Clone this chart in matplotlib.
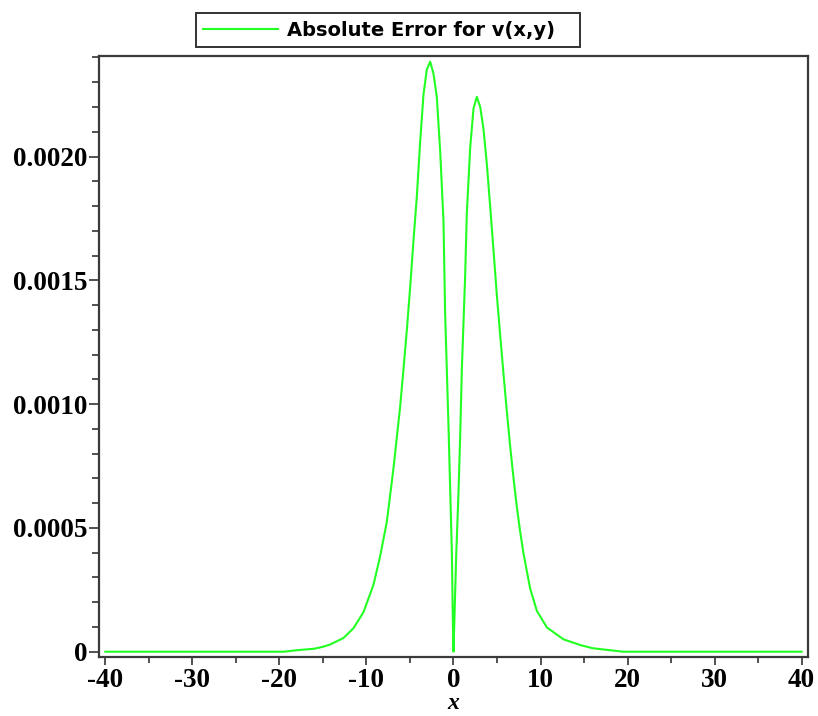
import numpy as np
import matplotlib
matplotlib.use("Agg")
import matplotlib.pyplot as plt
from matplotlib.ticker import MultipleLocator, FixedLocator

# absolute error
x_vals = [-40.0, -19.5, -18.0, -16.0, -15.0, -14.18, -12.66, -11.49, -10.34, -9.20,
          -8.43, -7.66, -6.90, -6.13, -5.75, -5.36, -4.98, -4.60, -4.21, -3.83,
          -3.45, -3.07, -2.68, -2.30, -1.92, -1.53, -1.15, -0.96, -0.77, -0.57,
          -0.38, -0.19, -0.08, 0.0, 0.11, 0.31, 0.57, 0.77, 0.96, 1.15,
          1.34, 1.53, 1.92, 2.30, 2.68, 3.07, 3.45, 3.83, 4.21, 4.60,
          4.98, 5.36, 5.75, 6.13, 6.51, 6.90, 7.28, 7.66, 8.05, 8.81,
          9.58, 10.73, 12.64, 14.56, 16.0, 18.0, 19.5, 40.0]
err_vals = [0.0, 0.0, 0.000006, 0.000012, 0.00002, 0.000029, 0.000055, 0.000095, 0.000160, 0.000270,
            0.000385, 0.000525, 0.000740, 0.000990, 0.001140, 0.001300, 0.001472, 0.001660, 0.001840, 0.002060,
            0.002250, 0.002351, 0.002383, 0.002335, 0.002241, 0.002021, 0.001739, 0.001362, 0.001142, 0.000906,
            0.000655, 0.000404, 0.000137, 0.0, 0.000137, 0.000388, 0.000639, 0.000875, 0.001142, 0.001330,
            0.001519, 0.001770, 0.002037, 0.002194, 0.002241, 0.002200, 0.002110, 0.001970, 0.001800, 0.001620,
            0.001440, 0.001280, 0.001120, 0.000970, 0.000830, 0.000700, 0.000585, 0.000485, 0.000395, 0.000255,
            0.000165, 0.000098, 0.000050, 0.000027, 0.000014, 0.000006, 0.0, 0.0]

xticks = [-40, -30, -20, -10, 0, 10, 20, 30, 40]
yticks = [0, 0.0005, 0.0010, 0.0015, 0.0020]
ytick_labels = ["0", "0.0005", "0.0010", "0.0015", "0.0020"]

plt.rcParams["axes.unicode_minus"] = False

fig = plt.figure(figsize=(8.18, 7.16), dpi=100)
ax = fig.add_axes([0.1214, 0.0828, 0.866, 0.839])

line, = ax.plot(x_vals, err_vals, color="#22ff22", lw=1.5, label="Absolute Error for v(x,y)")

ax.set_xlim(-40.7, 40.7)
ax.set_ylim(-0.0000202, 0.002406)

tick_font = {"family": "Liberation Serif", "weight": "bold", "size": 19.5}
ax.xaxis.set_major_locator(FixedLocator(xticks))
ax.xaxis.set_minor_locator(MultipleLocator(5))
ax.set_xticks(xticks)
ax.set_xticklabels([str(t) for t in xticks], fontdict=tick_font)
ax.set_yticks(yticks)
ax.set_yticklabels(ytick_labels, fontdict=tick_font)
ax.yaxis.set_minor_locator(MultipleLocator(0.0001))

ax.tick_params(axis="x", which="major", length=6, width=1.2, pad=2, color="#333333")
ax.tick_params(axis="x", which="minor", length=4, width=1.2, color="#333333")
ax.tick_params(axis="y", which="major", length=7.5, width=1.2, pad=1, color="#333333")
ax.tick_params(axis="y", which="minor", length=5, width=1.2, color="#333333")

for sp in ax.spines.values():
    sp.set_linewidth(1.6)
    sp.set_color("#3a3a3a")

ax.set_xlabel("x", fontdict={"family": "Liberation Serif", "weight": "bold",
                             "style": "italic", "size": 17}, labelpad=0)

# legend box spans the same width as in the reference
leg = fig.legend(handles=[line], loc="center", mode="expand",
                 bbox_to_anchor=(196 / 818, 1 - 46 / 716, 384 / 818, 32 / 716),
                 borderaxespad=0, fancybox=False, edgecolor="#333333", framealpha=1,
                 prop={"family": "DejaVu Sans", "weight": "bold", "size": 14},
                 handlelength=3.85, handletextpad=0.45, borderpad=0.38)
leg.get_frame().set_linewidth(1.4)

fig.savefig("out.png", dpi=100)
